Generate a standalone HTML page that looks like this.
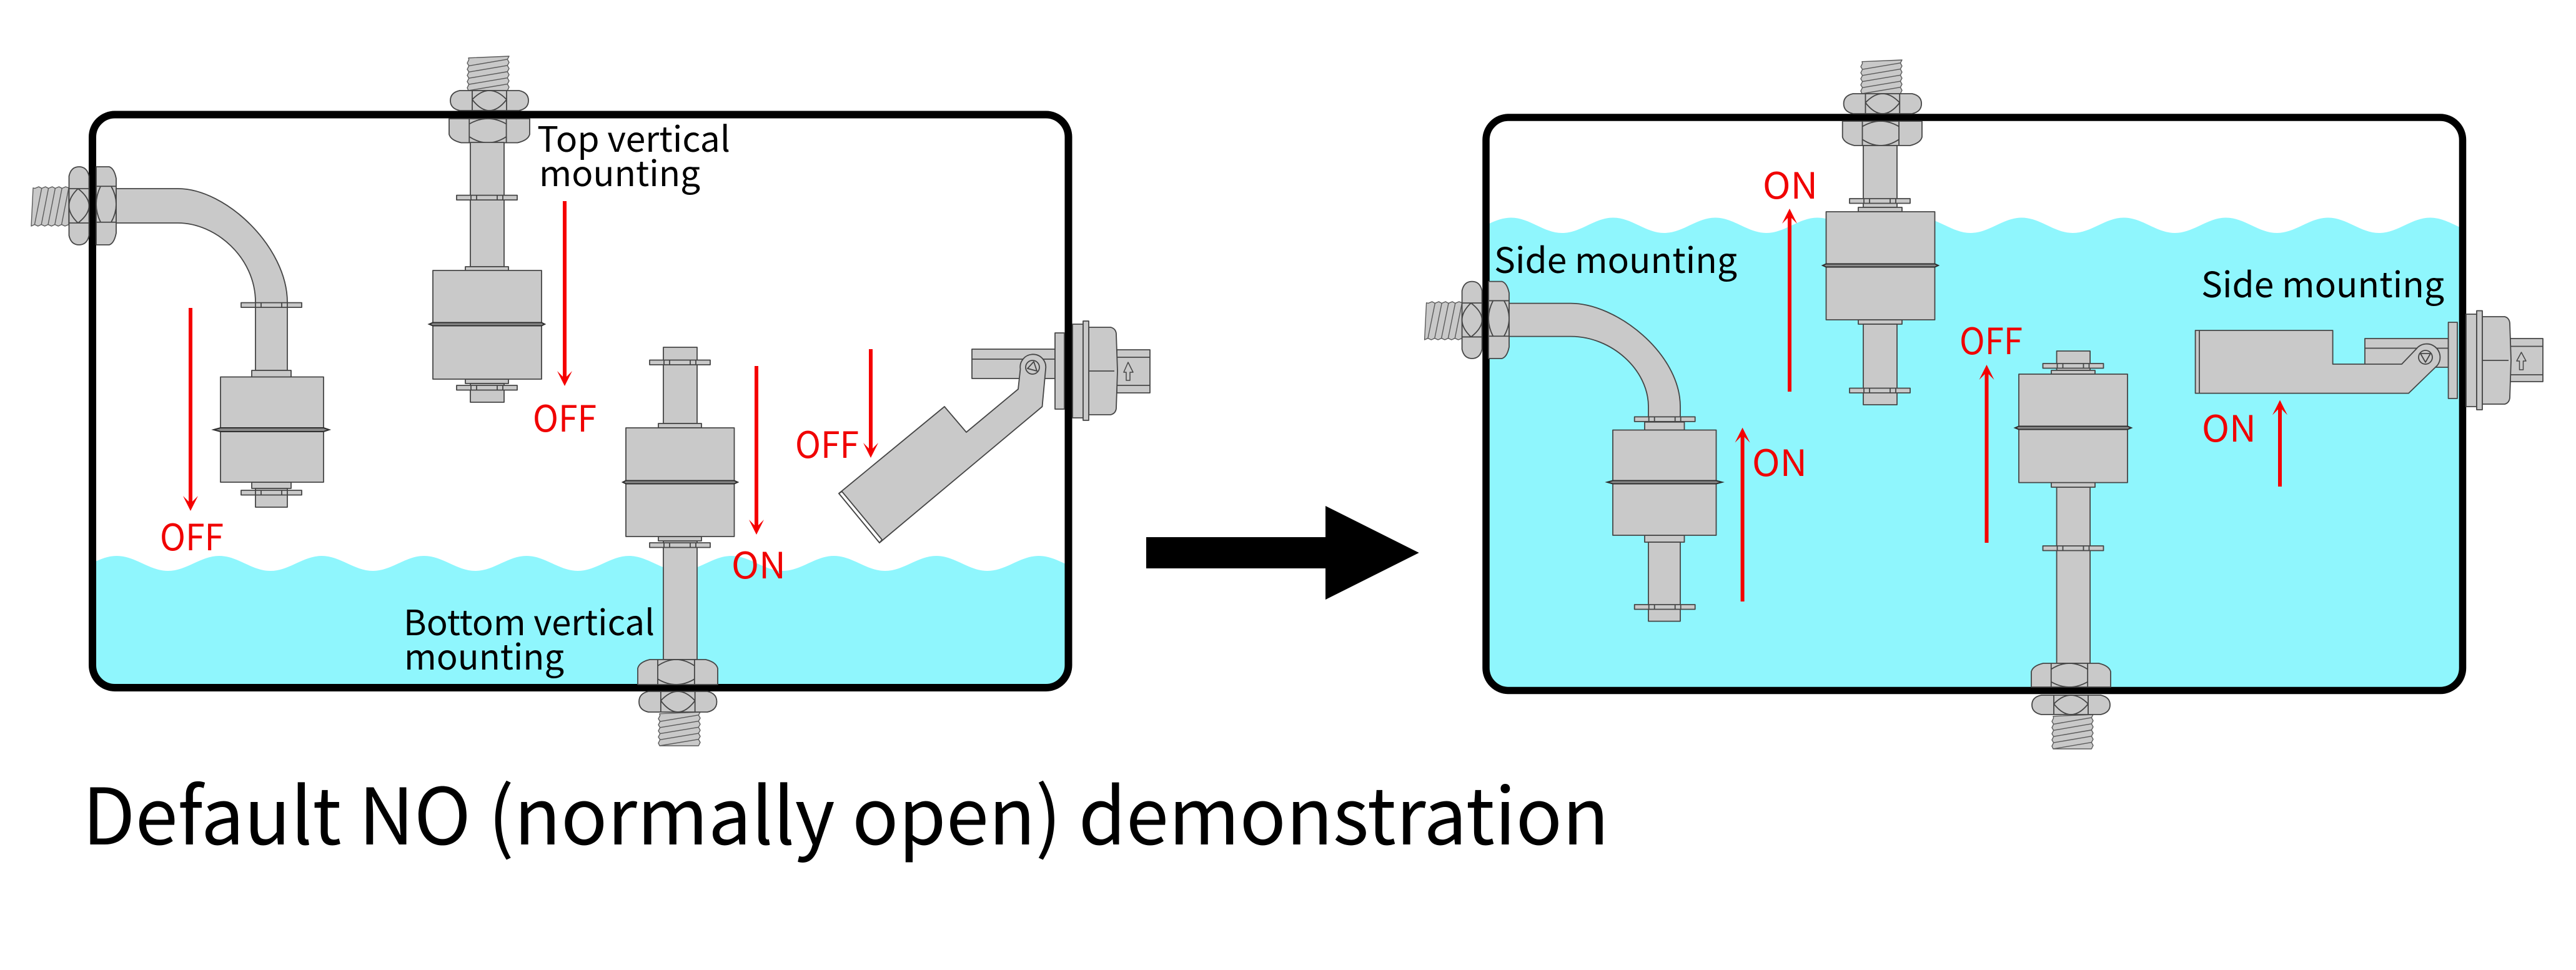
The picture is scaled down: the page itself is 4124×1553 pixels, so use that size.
<!DOCTYPE html>
<html lang="en">
<head>
<meta charset="utf-8">
<title>Default NO (normally open) demonstration</title>
<style>
html,body{margin:0;padding:0;background:#fff}
svg{display:block}
.g{fill:#c9c9c9;stroke:#454545;stroke-width:1.8;stroke-linejoin:round}
.g .n{stroke-width:1.5}
.g .k{stroke:#6a6a6a;stroke-width:1.2}
.th .n{stroke:#5a5a5a;stroke-width:1.4}
.n{vector-effect:non-scaling-stroke}
.seam{fill:#8a8a8a;stroke:#2e2e2e;stroke-width:2}
.l{fill:none;stroke:#454545;stroke-width:1.8}
.red{stroke:#f50000;stroke-width:6;fill:none}
.rh{fill:#f50000}
.rt{fill:#f00000;font-size:58px}
.bt{fill:#000;font-size:56px}
text{font-family:"Noto Sans CJK SC","Liberation Sans",sans-serif}
</style>
</head>
<body>
<svg xmlns="http://www.w3.org/2000/svg" width="4124" height="1553" viewBox="0 0 4124 1553">
<defs>
<clipPath id="c1"><rect x="148" y="183.5" width="1562.5" height="917.5" rx="36"/></clipPath>
<clipPath id="c2"><rect x="2379" y="188" width="1563.5" height="917.5" rx="36"/></clipPath>
<g id="n1">
<path class="n" d="M12,0H88Q100,10 100,50Q100,90 88,100H12Q0,90 0,50Q0,10 12,0Z"/>
<path class="n k" fill="none" d="M28,0V100M72,0V100M28,45Q50,-45 72,45Q50,155 28,45"/>
</g>
<g id="n2">
<path class="n" d="M0,0H100V65Q98,90 85,100H15Q2,90 0,65Z"/>
<path class="n k" fill="none" d="M25,0V100M71,0V100M25,22Q48,-22 71,22V75Q48,125 25,75Z"/>
</g>
<g id="t" class="th">
<path class="n" d="M3,5L100,0L96,9L100,18L96,27L100,36L96,45L100,54L96,63L100,72L96,81L100,90L96,100L3,100L0,92L4,82L0,74L4,64L0,56L4,46L0,38L4,28L0,20L4,10Z"/>
<path class="n" fill="none" d="M4,28L96,9M4,46L96,27M4,64L96,45M4,82L96,63M3,100L96,81"/>
</g>
<g id="w"><rect class="n" width="97" height="7.5"/><path class="n" fill="none" d="M23,0V7.5M32,0V7.5M65,0V7.5M74,0V7.5"/></g>
</defs>

<rect width="4124" height="1553" fill="#fff"/>

<!-- water -->
<g clip-path="url(#c1)">
<path fill="#8ff6fd" d="M23,890c30,0 52,24 82,24c30,0 52,-24 82,-24c30,0 52,24 82,24c30,0 52,-24 82,-24c30,0 52,24 82,24c30,0 52,-24 82,-24c30,0 52,24 82,24c30,0 52,-24 82,-24c30,0 52,24 82,24c30,0 52,-24 82,-24c30,0 52,24 82,24c30,0 52,-24 82,-24c30,0 52,24 82,24c30,0 52,-24 82,-24c30,0 52,24 82,24c30,0 52,-24 82,-24c30,0 52,24 82,24c30,0 52,-24 82,-24c30,0 52,24 82,24c30,0 52,-24 82,-24c30,0 52,24 82,24c30,0 52,-24 82,-24c30,0 52,24 82,24c30,0 52,-24 82,-24V1150H23Z"/>
</g>
<g clip-path="url(#c2)">
<path fill="#8ff6fd" d="M2255.5,348.5c30,0 52,24.5 81.75,24.5c30,0 52,-24.5 81.75,-24.5c30,0 52,24.5 81.75,24.5c30,0 52,-24.5 81.75,-24.5c30,0 52,24.5 81.75,24.5c30,0 52,-24.5 81.75,-24.5c30,0 52,24.5 81.75,24.5c30,0 52,-24.5 81.75,-24.5c30,0 52,24.5 81.75,24.5c30,0 52,-24.5 81.75,-24.5c30,0 52,24.5 81.75,24.5c30,0 52,-24.5 81.75,-24.5c30,0 52,24.5 81.75,24.5c30,0 52,-24.5 81.75,-24.5c30,0 52,24.5 81.75,24.5c30,0 52,-24.5 81.75,-24.5c30,0 52,24.5 81.75,24.5c30,0 52,-24.5 81.75,-24.5c30,0 52,24.5 81.75,24.5c30,0 52,-24.5 81.75,-24.5c30,0 52,24.5 81.75,24.5c30,0 52,-24.5 81.75,-24.5V1150H2255.5Z"/>
</g>

<!-- tanks -->
<rect x="148" y="183.5" width="1562.5" height="917.5" rx="36" fill="none" stroke="#000" stroke-width="12"/>
<rect x="2379" y="188" width="1563.5" height="917.5" rx="36" fill="none" stroke="#000" stroke-width="11.5"/>

<!-- A: left tank, side L-pipe -->
<g class="g">
<use href="#t" transform="matrix(0,.63,.6,0,50,299)"/>
<use href="#n1" transform="matrix(0,1.25,.32,0,110.5,267)"/>
<use href="#n2" transform="matrix(0,1.25,.32,0,154,267)"/>
<path d="M186,302H285C362,302 460,396 460,484V593H409V484C409,412 345,357 285,357H186Z"/>
<rect x="403" y="593" width="63" height="11"/>
<rect x="403" y="772" width="63" height="10"/>
<rect x="409" y="782" width="51" height="30"/>
<use href="#w" transform="translate(386,484.6)"/>
<use href="#w" transform="translate(386,785)"/>
<rect x="353" y="603.5" width="165" height="168.5"/>
</g>
<path class="seam" d="M342,688L353,685H518L527,688L518,691H353Z"/>

<!-- B: left tank, top vertical -->
<g class="g">
<use href="#t" transform="matrix(.67,0,0,.55,748,90)"/>
<use href="#n1" transform="matrix(1.25,0,0,.32,721,145)"/>
<use href="#n2" transform="matrix(1.29,0,0,.385,719,190)"/>
<rect x="753" y="228" width="54" height="199"/>
<rect x="745" y="427" width="69" height="7"/>
<rect x="745" y="607" width="69" height="7"/>
<rect x="753" y="614" width="54" height="30"/>
<use href="#w" transform="translate(731,312.6)"/>
<use href="#w" transform="translate(731,617)"/>
<rect x="693" y="433" width="174" height="174"/>
</g>
<path class="seam" d="M687,519L693,516.5H867L872,519L867,521.5H693Z"/>

<!-- C: left tank, bottom vertical -->
<g class="g">
<use href="#t" transform="matrix(.67,0,0,.54,1054,1140)"/>
<use href="#n1" transform="matrix(1.245,0,0,.33,1023,1107)"/>
<rect x="1062" y="556" width="54" height="122"/>
<rect x="1062" y="866" width="54" height="190"/>
<use href="#n2" transform="matrix(1.28,0,0,-.4,1021,1096)"/>
<rect x="1054" y="678" width="69" height="7"/>
<rect x="1054" y="859" width="69" height="7"/>
<use href="#w" transform="translate(1040,576.5)"/>
<use href="#w" transform="translate(1040,869)"/>
<rect x="1002" y="685" width="173.5" height="174"/>
</g>
<path class="seam" d="M997,772L1002,769.5H1175.5L1181,772L1175.5,774.5H1002Z"/>

<!-- D: left tank, tilted float -->
<g class="g">
<rect x="1556" y="559" width="133" height="47"/>
<path class="l" d="M1556,575H1689"/>
<path d="M1343,790L1512,651L1547,692L1630,623L1633.5,591A20.5,20.5 0 1 1 1674,591L1668.5,651L1408,869Z"/>
<path fill="#fff" d="M1343,790L1348,787L1412,864L1408,869Z"/>
<circle cx="1653" cy="588" r="11"/>
<path class="l" d="M1645,590L1655,579L1660,594Z"/>
<rect x="1689" y="533" width="15" height="122"/>
<rect x="1717" y="519" width="17" height="150"/>
<rect x="1788" y="560" width="53" height="69"/>
<path class="l" d="M1788,572H1841M1788,617H1841"/>
<path d="M1743,524H1778Q1786,526 1787,534L1789,594L1787,654Q1786,662 1778,664H1743Z"/>
<path class="l" d="M1743,594H1784"/>
<rect x="1734" y="514" width="9" height="159"/>
<path fill="#c9c9c9" d="M1806,580L1814,596H1809V609H1803V596H1799Z" stroke-width="1.5"/>
</g>

<!-- E: right tank, side L-pipe -->
<g class="g">
<use href="#t" transform="matrix(0,.61,.6,0,2280.6,483)"/>
<use href="#n1" transform="matrix(0,1.234,.32,0,2340.6,450.6)"/>
<use href="#n2" transform="matrix(0,1.234,.33,0,2383,450.6)"/>
<path d="M2416,485.6H2514.7C2588,485.6 2690,566 2690,651V668H2639V651C2639,592 2580,538.6 2514.7,538.6H2416Z"/>
<rect x="2633" y="675.7" width="63.5" height="13"/>
<rect x="2633" y="857" width="63.5" height="11"/>
<rect x="2639" y="868" width="51" height="126.6"/>
<use href="#w" transform="translate(2616.7,667.4)"/>
<use href="#w" transform="translate(2616.7,968)"/>
<rect x="2582" y="688.5" width="165.5" height="168.5"/>
</g>
<path class="seam" d="M2573,772L2582,769.5H2747.5L2757,772L2747.5,774.5H2582Z"/>

<!-- F: right tank, top vertical -->
<g class="g">
<use href="#t" transform="matrix(.66,0,0,.54,2979,96)"/>
<use href="#n1" transform="matrix(1.245,0,0,.32,2951.6,150)"/>
<use href="#n2" transform="matrix(1.273,0,0,.39,2949.7,194)"/>
<rect x="2983" y="233" width="54" height="99"/>
<rect x="2975" y="332" width="70" height="7"/>
<rect x="2975" y="512" width="70" height="7"/>
<rect x="2983" y="519" width="54" height="129"/>
<use href="#w" transform="translate(2961,318)"/>
<use href="#w" transform="translate(2961,621.5)"/>
<rect x="2923.5" y="339" width="174" height="173"/>
</g>
<path class="seam" d="M2918,425L2923.5,422.5H3097.5L3103,425L3097.5,427.5H2923.5Z"/>

<!-- G: right tank, bottom vertical -->
<g class="g">
<use href="#t" transform="matrix(.66,0,0,.55,3285,1144)"/>
<use href="#n1" transform="matrix(1.25,0,0,.31,3253,1113)"/>
<rect x="3292.6" y="562" width="53.5" height="31"/>
<rect x="3292.6" y="780" width="53.5" height="282"/>
<use href="#n2" transform="matrix(1.27,0,0,-.38,3252,1100)"/>
<rect x="3284" y="593" width="70" height="6"/>
<rect x="3284" y="772.6" width="70" height="7.4"/>
<use href="#w" transform="translate(3270.5,582)"/>
<use href="#w" transform="translate(3270.5,874)"/>
<rect x="3232" y="599" width="174" height="173.6"/>
</g>
<path class="seam" d="M3226,685L3232,682.5H3406L3412,685L3406,687.5H3232Z"/>

<!-- H: right tank, horizontal float -->
<g class="g">
<rect x="3786" y="542" width="133.6" height="46"/>
<path class="l" d="M3786,557.5H3919.6"/>
<path d="M3514.6,529H3734.6V583H3845L3868,559A21,21 0 0 1 3902,585L3856,629.6H3514.6Z"/>
<path class="l" d="M3521,529V629.6"/>
<circle cx="3883" cy="572" r="11"/>
<path class="l" d="M3875,566H3891L3883,580Z"/>
<rect x="3919.6" y="516" width="14.4" height="122"/>
<rect x="3948" y="503" width="17" height="148"/>
<rect x="4018" y="542" width="53" height="69"/>
<path class="l" d="M4018,554.5H4071M4018,600H4071"/>
<path d="M3974,507H4010Q4017,509 4018,517L4020,577L4018,637Q4017,645 4010,647H3974Z"/>
<path class="l" d="M3974,577H4016"/>
<rect x="3965" y="497.5" width="9" height="158.5"/>
<path fill="#c9c9c9" d="M4036.5,564L4044,578H4039.5V592H4033.5V578H4029Z" stroke-width="1.5"/>
</g>

<!-- big arrow -->
<path fill="#000" d="M1835,860H2122V810L2271.7,885L2122,960V910H1835Z"/>

<!-- red arrows -->
<path class="red" d="M305,493V806"/><path class="rh" d="M305,818L293,794L305,806L317,794Z"/>
<path class="red" d="M904,322V606"/><path class="rh" d="M904,618L892,594L904,606L916,594Z"/>
<path class="red" d="M1211,586V844"/><path class="rh" d="M1211,856L1199,832L1211,844L1223,832Z"/>
<path class="red" d="M1394,559V721"/><path class="rh" d="M1394,733L1382,709L1394,721L1406,709Z"/>
<path class="red" d="M2865,627V346"/><path class="rh" d="M2865,334L2853,358L2865,346L2877,358Z"/>
<path class="red" d="M2789.6,963V697"/><path class="rh" d="M2789.6,684.6L2777.6,708.6L2789.6,696.6L2801.6,708.6Z"/>
<path class="red" d="M3180.5,869V596"/><path class="rh" d="M3180.5,584L3168.5,608L3180.5,596L3192.5,608Z"/>
<path class="red" d="M3650,779V652"/><path class="rh" d="M3650,640.5L3638,664.5L3650,652.5L3662,664.5Z"/>

<!-- red labels -->
<text class="rt" x="256" y="881" textLength="102" lengthAdjust="spacingAndGlyphs">OFF</text>
<text class="rt" x="853" y="691" textLength="102" lengthAdjust="spacingAndGlyphs">OFF</text>
<text class="rt" x="1171" y="926" textLength="87" lengthAdjust="spacingAndGlyphs">ON</text>
<text class="rt" x="1273" y="733" textLength="102" lengthAdjust="spacingAndGlyphs">OFF</text>
<text class="rt" x="2822" y="318" textLength="88" lengthAdjust="spacingAndGlyphs">ON</text>
<text class="rt" x="2805" y="762" textLength="88" lengthAdjust="spacingAndGlyphs">ON</text>
<text class="rt" x="3137" y="567" textLength="101" lengthAdjust="spacingAndGlyphs">OFF</text>
<text class="rt" x="3525" y="707" textLength="87" lengthAdjust="spacingAndGlyphs">ON</text>

<!-- black labels -->
<text class="bt" x="860" y="243" textLength="309" lengthAdjust="spacingAndGlyphs">Top vertical</text>
<text class="bt" x="863" y="298" textLength="258" lengthAdjust="spacingAndGlyphs">mounting</text>
<text class="bt" x="646" y="1017" textLength="402" lengthAdjust="spacingAndGlyphs">Bottom vertical</text>
<text class="bt" x="647" y="1072" textLength="256" lengthAdjust="spacingAndGlyphs">mounting</text>
<text class="bt" x="2392" y="437" textLength="389" lengthAdjust="spacingAndGlyphs">Side mounting</text>
<text class="bt" x="3524" y="476" textLength="389" lengthAdjust="spacingAndGlyphs">Side mounting</text>

<text x="132" y="1352" font-size="125" fill="#000" textLength="2444" lengthAdjust="spacingAndGlyphs">Default NO (normally open) demonstration</text>
</svg>
</body>
</html>
